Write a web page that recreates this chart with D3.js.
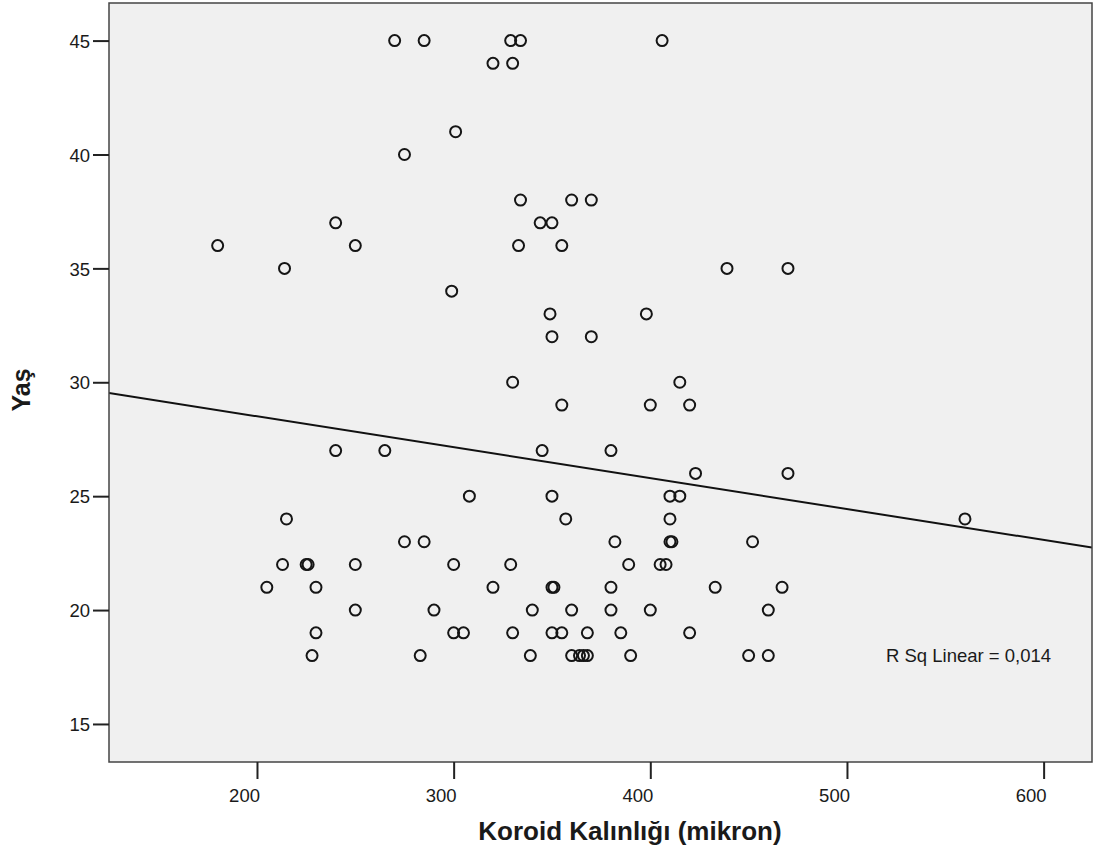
<!DOCTYPE html>
<html>
<head>
<meta charset="utf-8">
<script src="https://cdn.jsdelivr.net/npm/d3@7"></script>
<style>
  body { margin: 0; background: #ffffff; }
  svg text { font-family: "Liberation Sans", Arial, sans-serif; fill: #1a1a1a; }
</style>
</head>
<body>
<svg id="chart" width="1097" height="857"></svg>
<script>
// Koroid kalinligi (mikron) vs yas
var koroid = [
  270, 285, 329, 334, 406,
  320, 330,
  301,
  275,
  334, 360, 370,
  240, 344, 350,
  180, 250, 333, 355,
  214, 439, 470,
  299,
  349, 398,
  350, 370,
  330, 415,
  355, 400, 420,
  240, 265, 345, 380,
  423, 470,
  308, 350, 410, 415,
  215, 357, 410, 560,
  275, 285, 382, 410, 411, 452,
  213, 225, 226, 250, 300, 329, 389, 405, 408,
  205, 230, 320, 350, 351, 380, 433, 467,
  250, 290, 340, 360, 380, 400, 460,
  230, 300, 305, 330, 350, 355, 368, 385, 420,
  228, 283, 339, 360, 364, 366, 368, 390, 450, 460
];
var yas = [
  45, 45, 45, 45, 45,
  44, 44,
  41,
  40,
  38, 38, 38,
  37, 37, 37,
  36, 36, 36, 36,
  35, 35, 35,
  34,
  33, 33,
  32, 32,
  30, 30,
  29, 29, 29,
  27, 27, 27, 27,
  26, 26,
  25, 25, 25, 25,
  24, 24, 24, 24,
  23, 23, 23, 23, 23, 23,
  22, 22, 22, 22, 22, 22, 22, 22, 22,
  21, 21, 21, 21, 21, 21, 21, 21,
  20, 20, 20, 20, 20, 20, 20,
  19, 19, 19, 19, 19, 19, 19, 19, 19,
  18, 18, 18, 18, 18, 18, 18, 18, 18, 18
];
var xTicks = [200, 300, 400, 500, 600];
var yTicks = [15, 20, 25, 30, 35, 40, 45];
// fitted line: yas = intercept + slope * koroid
var fitIntercept = 31.22;
var fitSlope = -0.01357;
var rSqLabel = "R Sq Linear = 0,014";

(function () {
    var svg = d3.select("svg#chart"),
        left = 109, right = 1092, top = 3, bottom = 762;

    var x = d3.scaleLinear().domain([124.75, 624.6]).range([left, right]);
    var y = d3.scaleLinear().domain([13.33, 46.65]).range([bottom, top]);

    // plot background
    svg.append("rect")
        .attr("x", left).attr("y", top)
        .attr("width", right - left).attr("height", bottom - top)
        .attr("fill", "#f0f0f0");

    svg.append("clipPath").attr("id", "plotclip")
        .append("rect")
        .attr("x", left).attr("y", top)
        .attr("width", right - left).attr("height", bottom - top);

    // fit line
    var xd = x.domain();
    svg.append("line")
        .attr("clip-path", "url(#plotclip)")
        .attr("x1", x(xd[0])).attr("y1", y(fitIntercept + fitSlope * xd[0]))
        .attr("x2", x(xd[1])).attr("y2", y(fitIntercept + fitSlope * xd[1]))
        .attr("stroke", "#111").attr("stroke-width", 2);

    // points
    svg.append("g").selectAll("circle")
        .data(koroid.map((k, i) => ({k: k, a: yas[i]})))
        .join("circle")
        .attr("cx", d => x(d.k)).attr("cy", d => y(d.a))
        .attr("r", 5.5)
        .attr("fill", "none").attr("stroke", "#151515").attr("stroke-width", 2);

    // frame
    svg.append("rect")
        .attr("x", left).attr("y", top)
        .attr("width", right - left).attr("height", bottom - top)
        .attr("fill", "none").attr("stroke", "#444").attr("stroke-width", 1.5);

    // y axis
    var gy = svg.append("g").attr("transform", "translate(" + left + ",0)")
        .call(d3.axisLeft(y).tickValues(yTicks).tickSize(16).tickPadding(3)
              .tickFormat(d3.format("d")));
    gy.select(".domain").remove();
    gy.selectAll(".tick line").attr("stroke", "#222").attr("stroke-width", 2);
    gy.selectAll(".tick text").style("font-size", "18.5px").attr("dy", "0.36em");

    // x axis
    var gx = svg.append("g").attr("transform", "translate(0," + bottom + ")")
        .call(d3.axisBottom(x).tickValues(xTicks).tickSize(17)
              .tickFormat(d3.format("d")));
    gx.select(".domain").remove();
    gx.selectAll(".tick line").attr("stroke", "#222").attr("stroke-width", 2);
    gx.selectAll(".tick text").style("font-size", "18.5px")
        .attr("text-anchor", "end").attr("x", 2.5).attr("y", 40).attr("dy", 0);

    // axis titles
    svg.append("text")
        .attr("x", 630).attr("y", 840)
        .attr("text-anchor", "middle")
        .style("font-size", "26px").style("font-weight", "bold")
        .text("Koroid Kalınlığı (mikron)");

    svg.append("text")
        .attr("transform", "translate(30,390) rotate(-90)")
        .attr("text-anchor", "middle")
        .style("font-size", "25px").style("font-weight", "bold")
        .text("Yaş");

    // r square note
    svg.append("text")
        .attr("x", 886).attr("y", 662)
        .style("font-size", "18.5px")
        .text(rSqLabel);
})();
</script>
</body>
</html>
